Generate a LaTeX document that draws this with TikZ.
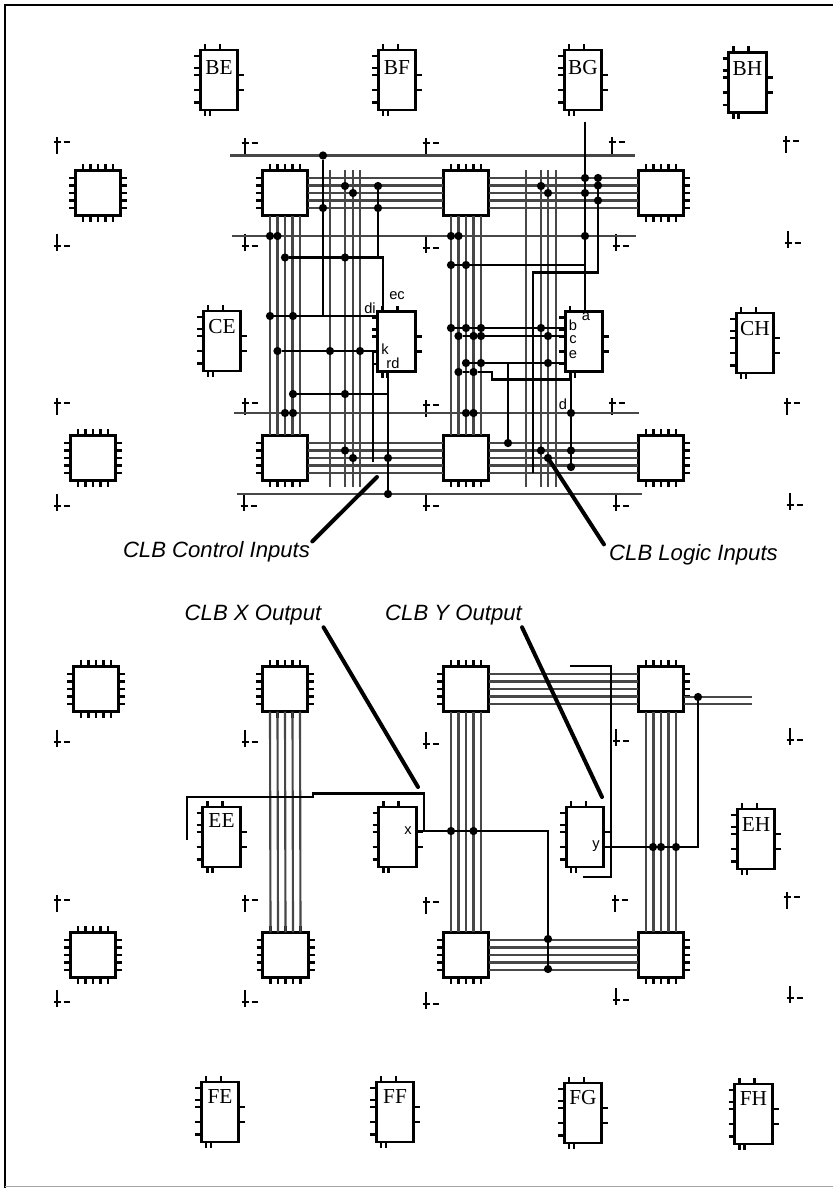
\documentclass[tikz,border=0pt]{standalone}
\usepackage{fontspec}
\setmainfont{Liberation Serif}
\newfontfamily\labelfont{Liberation Sans}
\usetikzlibrary{calc,positioning}
\tikzset{
 fpga switch/.style={draw,fill=white,line width=2.2pt,minimum size=34pt,
                     inner sep=0pt,outer sep=0pt},
 fpga clb/.style={draw,fill=white,line width=2.2pt,minimum width=28pt,
                  minimum height=45pt,inner sep=0pt,outer sep=0pt},
 fpga pin/.style={line width=2.2pt},
 fpga wire/.style={line width=1.6pt,black!72},
 fpga net/.style={line width=1.9pt},
 fpga dot/.style={circle,fill=black,minimum size=6.2pt,inner sep=0pt,outer sep=0pt},
 fpga mark/.style={line width=2.2pt},
 fpga leader/.style={line width=3pt,line cap=round},
 fpga name/.style={font=\fontsize{16}{17}\selectfont,inner sep=0pt},
 fpga pin label/.style={font=\labelfont\fontsize{11}{12}\selectfont,inner sep=0pt},
 fpga callout/.style={font=\labelfont\itshape\fontsize{16.6}{18}\selectfont,inner sep=0pt}
}
\begin{document}
\begin{tikzpicture}[x=.75pt,y=-.75pt]
 \useasboundingbox (0,0) rectangle (833,1188);
 \coordinate (framea) at (5,1188);
 \coordinate (frameb) at (5,5);
 \coordinate (framec) at (833,5);
 \coordinate (framed) at (833,1186);
 \draw[line width=2.2pt] (framea) -- (frameb) -- (framec);
 \draw[line width=.6pt,black!35] (framea |- framed) -- (framed);
 \foreach \x/\y in {57/142,245/143,426/143,612/142,786/141,
                    57/403,245/403,426/405,612/403,787/403,245/900,426/902,615/900,57/900,787/897}{
   \draw[fpga mark] (\x,\y-5) -- (\x,\y+12);
   \draw[fpga mark] (\x-3.5,\y) -- (\x+3.5,\y);
   \draw[fpga mark] (\x+6.5,\y) -- (\x+12.5,\y);
 }
 \foreach \x/\y in {57/246,245/246,426/248,616/246,788/243,
                    57/506,244/506,426/506,616/506,790/505,
                    57/742,245/742,426/744,616/741,790/740,
                    57/1002,245/1002,426/1004,616/1000,790/998}{
   \draw[fpga mark] (\x,\y-12) -- (\x,\y+5);
   \draw[fpga mark] (\x-3.5,\y) -- (\x+3.5,\y);
   \draw[fpga mark] (\x+6.5,\y) -- (\x+12.5,\y);
 }
 \foreach \n/\x/\y in {s1a/98/193,s2a/285/193,s3a/466/193,s4a/661/193,
                       s1b/93/458,s2b/285/458,s3b/466/458,s4b/661/458,
                       s1c/96/689,s2c/285/689,s3c/466/689,s4c/661/689,
                       s1d/93/955,s2d/285.5/955,s3d/466/955,s4d/661/955}{
   \foreach \o in {-15,-7.5,0,7.5,15}{
     \draw[fpga pin] (\x+\o,\y-29) -- (\x+\o,\y+29);
     \draw[fpga pin] (\x-29,\y+\o) -- (\x+29,\y+\o);
   }
   \node[fpga switch] (\n) at (\x,\y) {};
 }
 \foreach \n/\a/\b/\y in {1/230/635/155.5,2/232/636/236,3/234/639/413,4/237/642/494}{
   \coordinate (hl\n) at (\a,\y);
   \coordinate (hr\n) at (\b,\y);
   \draw[fpga wire] (hl\n) -- (hr\n);
 }
 \foreach \x in {330,345,353,360,526,541,548,556}{
   \coordinate (vt\x) at (\x,170);
   \coordinate (vb\x) at (\x,487);
   \draw[fpga wire] (vt\x) -- (vb\x);
 }
 \foreach \o in {-15,-7.5,0,7.5,15}{
   \foreach \p/\q in {s2a/s3a,s3a/s4a,s2b/s3b,s3b/s4b,s3c/s4c,s3d/s4d}{
     \draw[fpga wire] ($(\p.east)+(0,\o)$) -- ($(\q.west)+(0,\o)$);
   }
   \foreach \p/\q in {s2a/s2b,s3a/s3b,s2c/s2d,s3c/s3d,s4c/s4d}{
     \draw[fpga wire] ($(\p.south)+(\o,0)$) -- ($(\q.north)+(\o,0)$);
   }
 }
 \coordinate (exta) at (752,697);
 \coordinate (extb) at (752,704);
 \draw[fpga wire] (exta -| s4c.east) -- (exta);
 \draw[fpga wire] (extb -| s4c.east) -- (extb);
 \foreach \n/\x/\y in {BE/219/80,BF/397/80,BG/583/80,BH/747.5/82.5,
                       CE/222/341,clbA/396.5/341.5,clbB/584/341.5,CH/755/343,
                       EE/221.5/837,clbX/397.5/837,clbY/585/837,EH/756/839,
                       FE/220/1112,FF/395/1112,FG/583/1113,FH/753.5/1114}{
   \foreach \o in {-24,-12,-5,10,22.5}{\draw[fpga pin] (\x-25,\y+\o) -- (\x,\y+\o);}
   \foreach \o in {-5,10}{\draw[fpga pin] (\x,\y+\o) -- (\x+25,\y+\o);}
   \foreach \o in {-14,1}{\draw[fpga pin] (\x+\o,\y-36) -- (\x+\o,\y);}
   \foreach \o in {-14,-9}{\draw[fpga pin] (\x+\o,\y) -- (\x+\o,\y+36);}
   \node[fpga clb] (\n) at (\x,\y) {};
 }
 \foreach \n/\d in {BE/18,BF/18,BG/18,BH/16,CE/16,CH/16,EE/14,EH/16,FE/15,FF/15,FG/15,FH/15}{
   \node[fpga name] (\n txt) at ($(\n.north)+(0,\d)$) {\n};
 }
 \foreach \n/\x/\y in {t1/323/155.5,t2/323/208,a1/345/186,a2/353/193,a3/378/186,a4/378/208,
                       v1/270/236,v2/277.5/236,ec1/285/257.5,ec2/345/257.5,
                       di1/270/316,di2/293/316,k1/277.5/351,k2/330/351,k3/360/351,
                       rd1/293/394,rd2/345/394,v3/285/413,v4/293/413,
                       b1/345/450.5,b2/353/458,b3/388/458,b4/388/494,
                       g1/585/178,g2/585/193,g3/585/236,h1/598/178,h2/598/185.5,h3/598/200.5,
                       e1/541/186,e2/548/193,w1/451/236,w2/458.5/236,m1/451/265,m2/466/265,
                       p1/451/328,p2/466/328,p3/481/328,p4/541/328,
                       q1/458.5/336,q2/473.5/336,q3/481/336,q4/548/336,
                       r1/466/363,r2/481/363,r3/548/363,r4/508/443,
                       s1/458.5/372,s2/473.5/372,w3/466/413,w4/473.5/413,
                       f1/541/450.5,f2/548/458,d1/571/413,d2/571/450.5,d3/571/467,
                       x1/451/831,x2/473.5/831,x3/548/939,x4/548/969,
                       y1/653/847,y2/661/847,y3/676/847,y4/698/697}{
   \node[fpga dot] (\n) at (\x,\y) {};
 }
 \coordinate (kdrop) at (373,462);
 \coordinate (bgtop) at (585,122);
 \coordinate (hturn) at (598,272.7);
 \coordinate (hend) at (533,473);
 \coordinate (cstep) at (492,379.5);
 \coordinate (xa) at (424,831);
 \coordinate (xb) at (313,793.5);
 \coordinate (xc) at (313,797);
 \coordinate (xe) at (187,840);
 \coordinate (za) at (570,666);
 \coordinate (zm) at (611,666);
 \coordinate (zb) at (583,877);
 \draw[fpga net] (t1) -- (t1 |- di1);
 \draw[fpga net] (di1) -- (di1 -| clbA.west);
 \draw[fpga net] (a3) -- (a3 |- ec1);
 \draw[fpga net] (ec1) -| ($(clbA.north west)+(5,0)$);
 \draw[fpga net] (k1) -- (k1 -| clbA.west);
 \draw[fpga net] (kdrop |- k1) -- (kdrop);
 \draw[fpga net] (rd1) -- (rd1 -| b3);
 \draw[fpga net] (b4) -- (b4 |- clbA.south);
 \draw[fpga net] (bgtop) -- (bgtop |- clbB.north);
 \draw[fpga net] (h1) -- (hturn) -| (hend);
 \draw[fpga net] (m1) -- (m1 -| g1);
 \draw[fpga net] (p1) -- (p1 -| clbB.west);
 \draw[fpga net] (q1) -- (q1 -| clbB.west);
 \draw[fpga net] (r1) -- (r1 -| clbB.west);
 \draw[fpga net] (r4) -- (r4 |- r1);
 \draw[fpga net] (s1) -- (s2) -| (cstep) -- (cstep -| d1);
 \draw[fpga net] (d3) -- (d3 |- clbB.south);
 \draw[fpga net] (x1 -| clbX.east) -- (x1 -| x3) -- (x4);
 \draw[fpga net] (xa) |- (xb) -- (xc) -| (xe);
 \draw[fpga net] (y1 -| clbY.east) -- (y1 -| y4) -- (y4);
 \draw[fpga net] (za) -- (zm) |- (zb);
 \foreach \t/\x/\y in {di/370/308,ec/397/296,k/385/349,rd/393/363,
                       a/586/317,b/573/325,c/573/340,e/573/355,d/563/404,
                       x/408/831,y/596/846}{
   \node[fpga pin label] (lab\t) at (\x,\y) {\t};
 }
 \node[fpga callout] (ctrl) at (216.5,552) {CLB Control Inputs};
 \node[fpga callout] (logic) at (693.5,555) {CLB Logic Inputs};
 \node[fpga callout] (xout) at (253,615) {CLB X Output};
 \node[fpga callout] (yout) at (453.5,615) {CLB Y Output};
 \coordinate (ctrlend) at (377,477);
 \coordinate (xend) at (418,787);
 \coordinate (yend) at (602,797);
 \draw[fpga leader] ($(ctrl.north east)+(2,0)$) -- (ctrlend);
 \draw[fpga leader] ($(logic.north west)+(-5,0)$) -- (f2);
 \draw[fpga leader] ($(xout.south east)+(2,2)$) -- (xend);
 \draw[fpga leader] ($(yout.south east)+(0,2)$) -- (yend);
\end{tikzpicture}
\end{document}
